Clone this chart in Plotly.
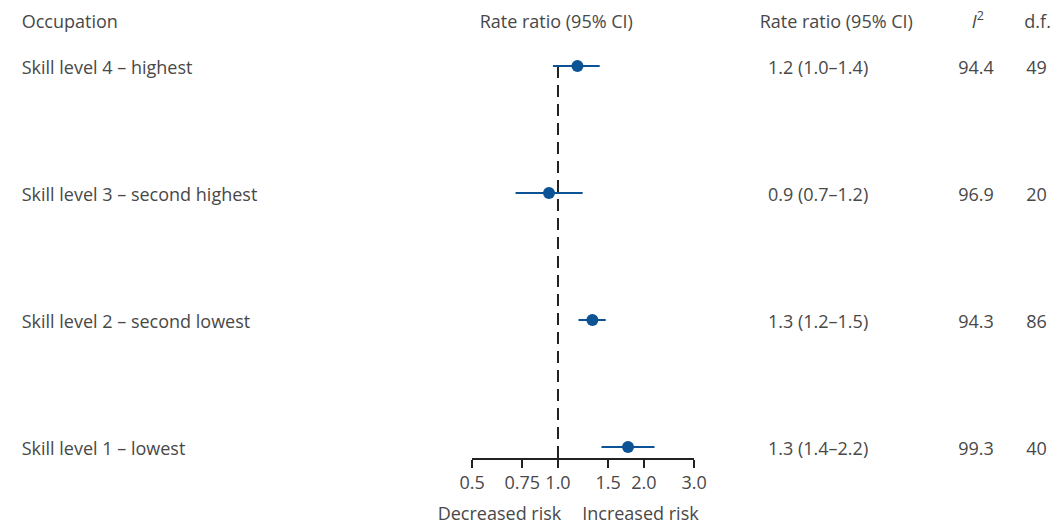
import math
import plotly.graph_objects as go

occupations = ["Skill level 4 – highest", "Skill level 3 – second highest",
               "Skill level 2 – second lowest", "Skill level 1 – lowest"]
rate = [1.17, 0.93, 1.32, 1.76]
ci_low = [0.96, 0.71, 1.18, 1.42]
ci_high = [1.40, 1.22, 1.47, 2.18]
rr_text = ["1.2 (1.0–1.4)", "0.9 (0.7–1.2)", "1.3 (1.2–1.5)", "1.3 (1.4–2.2)"]
i2 = ["94.4", "96.9", "94.3", "99.3"]
df_vals = ["49", "20", "86", "40"]
tick_vals = [0.5, 0.75, 1.0, 1.5, 2.0, 3.0]
tick_text = ["0.5", "0.75", "1.0", "1.5", "2.0", "3.0"]

W, H = 1063, 524
FONT = "Open Sans"
FS = 18
TXT = "#484848"
BLUE = "#0b5394"

# observed mapping of figure px -> screenshot px
AX, SX = 19.8, 0.979
AY = 8.0

def fx(X):   # screenshot x -> figure x
    return (X - AX) / SX

def fy(Y):   # screenshot y -> figure y
    return Y - AY

def paper_x(X):
    return fx(X) / W

def paper_y(Y):
    return 1 - fy(Y) / H

ypos = [3, 2, 1, 0]
row_px = [66, 193, 320, 447]
step = 127
y_bottom_px, y_top_px = 458, 40
v_bot = (447 - y_bottom_px) / step
v_top = (447 - y_top_px) / step

fig = go.Figure()
fig.add_trace(go.Scatter(
    x=rate, y=ypos, mode="markers",
    marker=dict(color=BLUE, size=12),
    error_x=dict(type="data", symmetric=False,
                 array=[h - r for h, r in zip(ci_high, rate)],
                 arrayminus=[r - l for r, l in zip(rate, ci_low)],
                 color=BLUE, thickness=2, width=0),
    showlegend=False, hoverinfo="skip"))

fig.add_shape(type="line", x0=1.0, x1=1.0, y0=v_bot, y1=(447 - 61) / step,
              xref="x", yref="y",
              line=dict(color="#222222", width=2, dash="12px,7px"),
              layer="below")

TY = 3  # vertical text correction

def txt(xs, ys, texts, pos):
    fig.add_trace(go.Scatter(
        x=[fx(v) for v in xs], y=[fy(v + TY) for v in ys], text=texts,
        mode="text", textposition=pos,
        textfont=dict(family=FONT, size=FS, color=TXT),
        marker=dict(size=0), cliponaxis=False,
        xaxis="x2", yaxis="y2", showlegend=False, hoverinfo="skip"))

LEFT = 20.5
txt([LEFT] * 5, [20] + row_px, ["Occupation"] + occupations, "middle right")
txt([557, 838, 980, 1040], [20, 20, 20, 20],
    ["Rate ratio (95% CI)", "Rate ratio (95% CI)", "<i>I</i><sup>2</sup>", "d.f."],
    "middle center")
txt([870] * 4, row_px, rr_text, "middle left")
txt([996] * 4, row_px, i2, "middle left")
txt([1039] * 4, row_px, df_vals, "middle center")
txt([562], [512], ["Decreased risk"], "middle left")
txt([583], [512], ["Increased risk"], "middle right")

fig.update_layout(
    width=W, height=H, margin=dict(l=0, r=0, t=0, b=0),
    paper_bgcolor="white", plot_bgcolor="rgba(0,0,0,0)",
    xaxis=dict(type="log", range=[math.log10(0.5), math.log10(3.0)],
               domain=[paper_x(472.5), paper_x(695.3)],
               tickvals=tick_vals, ticktext=tick_text,
               showline=True, linecolor="#222222", linewidth=1.5,
               ticks="outside", tickcolor="#222222", ticklen=8, tickwidth=1.5,
               showgrid=False, zeroline=False,
               tickfont=dict(family=FONT, size=FS, color=TXT)),
    yaxis=dict(range=[v_bot, v_top],
               domain=[paper_y(y_bottom_px), paper_y(y_top_px)],
               visible=False, showgrid=False, zeroline=False),
    xaxis2=dict(range=[0, W], domain=[0, 1], anchor="y2",
                visible=False, fixedrange=True),
    yaxis2=dict(range=[H, 0], domain=[0, 1], anchor="x2",
                visible=False, fixedrange=True),
)

fig.write_html("out.html")
